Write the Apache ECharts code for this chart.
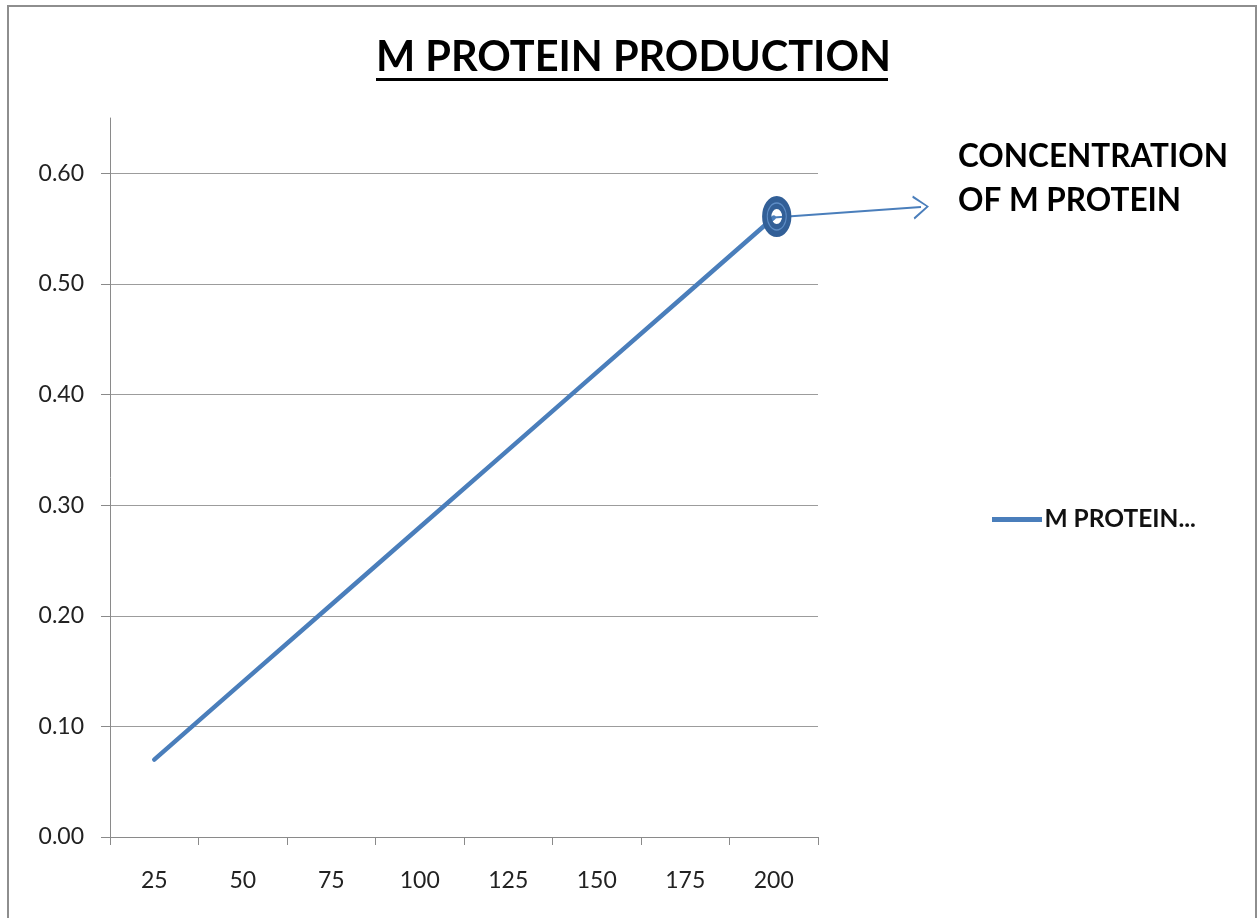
<!DOCTYPE html>
<html>
<head>
<meta charset="utf-8">
<script src="https://cdn.jsdelivr.net/npm/echarts@6/dist/echarts.min.js"></script>
<style>
html,body{margin:0;padding:0;background:#fff;}
#chart{position:absolute;left:0;top:0;width:1257px;height:918px;}
#frame{position:absolute;left:7px;top:5px;width:1246px;height:930px;border:2px solid #8e8e8e;pointer-events:none;}
</style>
</head>
<body>
<div id="chart"></div>
<div id="frame"></div>
<script>
const titleText = 'M PROTEIN PRODUCTION';
const seriesName = 'M PROTEIN CONCENTRATION';
const categories = ['25', '50', '75', '100', '125', '150', '175', '200'];
const values = [0.07, 0.14, 0.21, 0.28, 0.35, 0.42, 0.49, 0.56];
const yTicks = [0, 0.1, 0.2, 0.3, 0.4, 0.5, 0.6];
const annotationText = 'CONCENTRATION\nOF M PROTEIN';

const FONT = 'Lato';
const chart = echarts.init(document.getElementById('chart'));
const lastIdx = categories.length - 1;

chart.setOption({
  animation: false,
  backgroundColor: '#fff',
  grid: { left: 110, right: 439, top: 118, bottom: 81, containLabel: false },
  legend: {
    data: [seriesName],
    left: 987, top: 502,
    icon: 'path://M0,0 L100,0 L100,10 L0,10 Z',
    itemWidth: 53, itemHeight: 5, itemGap: 0,
    textStyle: { fontFamily: FONT, fontSize: 24.5, fontWeight: 'bold', color: '#111', padding: [0,0,0,-4] },
    formatter: () => 'M PROTEIN...'
  },
  xAxis: {
    type: 'category',
    data: categories,
    boundaryGap: true,
    axisLine: { lineStyle: { color: '#8a8a8a', width: 1 } },
    axisTick: { show: true, length: 8, alignWithLabel: false, lineStyle: { color: '#8a8a8a' } },
    axisLabel: { fontFamily: FONT, fontSize: 23, color: '#222', margin: 32 },
    splitLine: { show: false }
  },
  yAxis: {
    type: 'value',
    min: 0, max: 0.65, interval: 0.1,
    axisLine: { show: true, lineStyle: { color: '#8a8a8a', width: 1 } },
    axisTick: { show: true, length: 9, customValues: yTicks, lineStyle: { color: '#8a8a8a' } },
    axisLabel: { fontFamily: FONT, fontSize: 23, color: '#222', margin: 26, customValues: yTicks, formatter: v => v.toFixed(2) },
    splitLine: { show: true, lineStyle: { color: ['#9c9c9c','#9c9c9c','#9c9c9c','#9c9c9c','#9c9c9c','#9c9c9c','#9c9c9c','rgba(0,0,0,0)'], width: 1 } }
  },
  series: [{
    name: seriesName,
    type: 'line',
    data: values,
    symbol: 'none',
    lineStyle: { color: '#4a7ebb', width: 4.5, cap: 'round' },
    itemStyle: { color: '#4a7ebb' },
    markPoint: {
      symbol: 'circle',
      silent: true,
      label: { show: false },
      data: [
        { coord: [lastIdx, values[lastIdx]], symbolSize: [20, 28], symbolOffset: [3, -1], itemStyle: { color: 'rgba(0,0,0,0)', borderColor: '#325f97', borderWidth: 11 } },
        { coord: [lastIdx, values[lastIdx]], symbolSize: [19, 27], symbolOffset: [3, -1], itemStyle: { color: 'rgba(0,0,0,0)', borderColor: '#5e8dc6', borderWidth: 1.2 } }
      ]
    },
    markLine: {
      silent: true,
      symbol: ['none', 'path://M0,20 L10,0 L20,20 L18.2,21 L10,3.6 L1.8,21 Z'],
      symbolSize: [24, 16],
      label: { show: false },
      lineStyle: { color: '#4a7ebb', width: 2, type: 'solid' },
      data: [[ { coord: [lastIdx, values[lastIdx]] }, { x: 921, y: 207 } ]]
    }
  }],
  graphic: [
    { type: 'text', left: 376, top: 37, style: { text: titleText, fontFamily: FONT, fontSize: 41.5, fontWeight: 'bold', fill: '#000' } },
    { type: 'rect', shape: { x: 376, y: 78, width: 512, height: 3 }, style: { fill: '#000' } },
    { type: 'text', left: 958, top: 135, style: { text: annotationText, fontFamily: FONT, fontSize: 31.5, fontWeight: 'bold', fill: '#000', lineHeight: 44 } }
  ]
});
</script>
</body>
</html>
